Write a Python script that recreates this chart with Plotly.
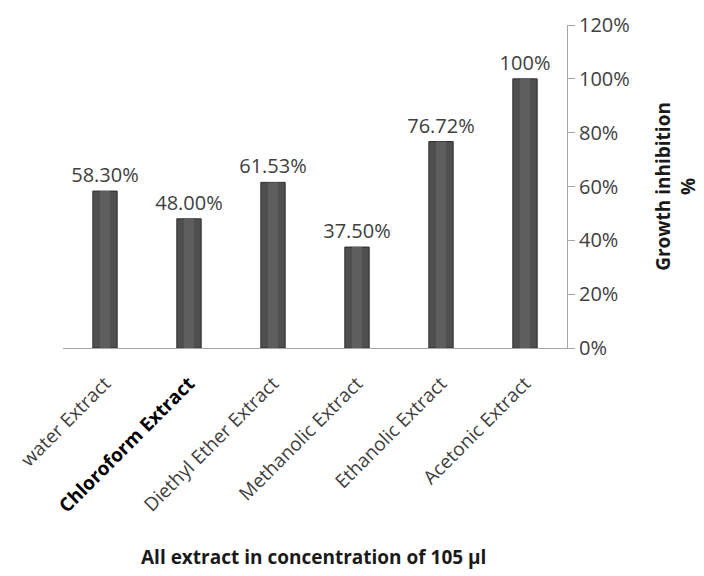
import plotly.graph_objects as go

categories = ["water Extract", "Chloroform Extract", "Diethyl Ether Extract",
              "Methanolic Extract", "Ethanolic Extract", "Acetonic Extract"]
tick_text = ["water Extract",
             "<b><span style='color:#000000'>Chloroform Extract</span></b>",
             "Diethyl Ether Extract", "Methanolic Extract",
             "Ethanolic Extract", "Acetonic Extract"]
values = [58.30, 48.00, 61.53, 37.50, 76.72, 100.0]
labels = ["58.30%", "48.00%", "61.53%", "37.50%", "76.72%", "100%"]
y_ticks = [0, 20, 40, 60, 80, 100, 120]
y_tick_text = ["0%", "20%", "40%", "60%", "80%", "100%", "120%"]

FONT = "Open Sans"
GRAY = "#404040"

fig = go.Figure()
fig.add_trace(go.Bar(
    x=categories, y=values, width=0.29,
    marker=dict(color="#4f4f4f", line=dict(color="#2e2e2e", width=1)),
    text=labels, textposition="outside", cliponaxis=False,
    constraintext="none",
    textfont=dict(family=FONT, size=20, color=GRAY),
    hoverinfo="skip",
))
# highlight stripe to give the cylinder look
fig.add_trace(go.Bar(
    x=categories, y=values, width=0.12,
    marker=dict(color="#5e5e5e", line=dict(width=0)),
    hoverinfo="skip",
))

fig.update_layout(
    width=704, height=576,
    margin=dict(l=63, r=137, t=25, b=228),
    paper_bgcolor="white", plot_bgcolor="white",
    showlegend=False, barmode="overlay",
    font=dict(family=FONT, color=GRAY),
    xaxis=dict(
        tickmode="array", tickvals=categories, ticktext=tick_text,
        tickangle=-45, tickfont=dict(family=FONT, size=19, color=GRAY),
        ticklabelstandoff=16,
        showline=True, linecolor="#a6a6a6", linewidth=1,
        ticks="", showgrid=False,
    ),
    yaxis=dict(
        side="right", range=[0, 120],
        tickmode="array", tickvals=y_ticks, ticktext=y_tick_text,
        tickfont=dict(family=FONT, size=20, color=GRAY),
        showline=True, linecolor="#a6a6a6", linewidth=1,
        ticks="outside", ticklen=7, tickcolor="#a6a6a6",
        showgrid=False, zeroline=False,
    ),
    annotations=[
        dict(text="<b>Growth inhibition<br>%</b>", textangle=-90,
             xref="paper", yref="paper", x=1.215, y=0.5,
             xanchor="center", yanchor="middle", showarrow=False,
             font=dict(family=FONT, size=19, color="#1a1a1a")),
        dict(text="<b>All extract in concentration of 105 µl</b>",
             xref="paper", yref="paper", x=0.498, y=-0.647,
             xanchor="center", yanchor="middle", showarrow=False,
             font=dict(family=FONT, size=19, color="#1a1a1a")),
    ],
)
fig.write_html("out.html")
